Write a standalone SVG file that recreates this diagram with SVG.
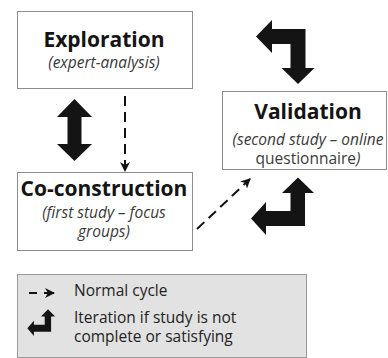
<svg xmlns="http://www.w3.org/2000/svg" width="388" height="358" viewBox="0 0 388 358">
  <defs>
    <style>
      .box { fill: #ffffff; stroke: #8c8c8c; stroke-width: 1; }
      .title { font-family: "Open Sans", "Liberation Sans", sans-serif; font-weight: bold; font-size: 21px; fill: #141414; text-anchor: middle; }
      .sub { font-family: "Open Sans", "Liberation Sans", sans-serif; font-style: italic; font-size: 15.5px; fill: #3a3a3a; text-anchor: middle; }
      .legend { font-family: "Open Sans", "Liberation Sans", sans-serif; font-size: 15.5px; fill: #222222; }
      .dash { fill: none; stroke: #111111; stroke-width: 2; stroke-dasharray: 10 6; }
      .bent { fill: #141414; }
    </style>
    <marker id="head" viewBox="0 0 10 10" refX="9" refY="5" markerWidth="5" markerHeight="5" orient="auto" markerUnits="strokeWidth">
      <path d="M0,0 L10,5 L0,10 L3,5 Z" fill="#111111"/>
    </marker>
    <!-- L-shaped iteration arrow: up head on the right, left head at the bottom -->
    <path id="iterArrow" d="M298,177.5 L314,193 L305,193 L305,226 L266,226 L266,235 L251,218.5 L266,202 L266,211 L290.5,211 L290.5,193 L282,193 Z"/>
  </defs>

  <!-- connectors -->
  <g id="connectors">
    <path class="dash" d="M125,96 L125,171" marker-end="url(#head)"/>
    <path class="dash" d="M197,229 L250,179" marker-end="url(#head)"/>
    <!-- double arrow between exploration and co-construction -->
    <path class="bent" d="M74.5,99 L92,117 L81.5,117 L81.5,144 L92,144 L74.5,161 L57,144 L67.5,144 L67.5,117 L57,117 Z"/>
    <!-- iteration arrow above validation -->
    <path class="bent" d="M256,36.5 L272,20 L272,29 L305.5,29 L305.5,68 L314.5,68 L298,84 L281.5,68 L290.5,68 L290.5,44 L272,44 L272,53 Z"/>
    <!-- iteration arrow below validation -->
    <use href="#iterArrow" class="bent"/>
  </g>

  <g id="exploration">
    <rect class="box" x="17.5" y="11.5" width="175" height="77"/>
    <text class="title" x="104" y="47">Exploration</text>
    <text class="sub" x="104" y="68">(expert-analysis)</text>
  </g>

  <g id="validation">
    <rect class="box" x="222.5" y="91.5" width="164" height="78"/>
    <text class="title" x="308" y="119">Validation</text>
    <text class="sub" x="308" y="145">(second study – online</text>
    <text class="sub" x="308" y="163.5"><tspan font-style="normal">questionnaire</tspan>)</text>
  </g>

  <g id="co-construction">
    <rect class="box" x="17.5" y="172.5" width="175" height="78"/>
    <text class="title" x="104" y="196">Co-construction</text>
    <text class="sub" x="104" y="218">(first study – focus</text>
    <text class="sub" x="104" y="236.5">groups)</text>
  </g>

  <g id="legend">
    <rect x="17.5" y="274.5" width="289" height="83" fill="#e2e2e2" stroke="#9a9a9a" stroke-width="1"/>
    <path d="M29,293 L37,293" stroke="#111111" stroke-width="2"/>
    <path d="M44,293 L54,293" stroke="#111111" stroke-width="2" marker-end="url(#head)"/>
    <use href="#iterArrow" class="bent" transform="translate(-83.1,226.9) scale(0.44,0.464)"/>
    <text class="legend" x="74" y="296">Normal cycle</text>
    <text class="legend" x="74" y="323">Iteration if study is not</text>
    <text class="legend" x="74" y="341.5">complete or satisfying</text>
  </g>
</svg>
